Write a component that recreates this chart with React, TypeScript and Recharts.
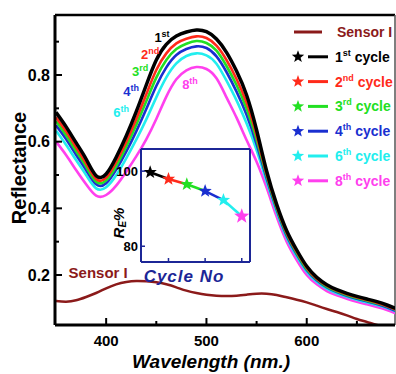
import React from 'react';
import { ComposedChart, Line, XAxis, YAxis, Legend, ReferenceDot, ReferenceLine, Scatter } from 'recharts';

const FONT = '"Liberation Sans", Arial, Helvetica, sans-serif';
const NAVY = '#1c2696';

const wavelengths = [350, 360, 370, 380, 390, 400, 410, 420, 430, 440, 450, 460, 470, 480, 490, 500, 510, 520, 530, 540, 550, 560, 570, 580, 590, 600, 610, 620, 630, 640, 650, 660, 670, 680, 690];
const sensorI = [0.122, 0.120, 0.124, 0.134, 0.146, 0.160, 0.172, 0.179, 0.182, 0.181, 0.178, 0.172, 0.163, 0.153, 0.146, 0.141, 0.138, 0.137, 0.138, 0.141, 0.144, 0.144, 0.140, 0.133, 0.126, 0.118, 0.108, 0.098, 0.089, 0.079, 0.068, 0.059, 0.050, 0.043, 0.036];
const cycle1 = [0.688, 0.645, 0.597, 0.548, 0.498, 0.503, 0.553, 0.617, 0.690, 0.770, 0.845, 0.892, 0.917, 0.929, 0.935, 0.930, 0.908, 0.868, 0.812, 0.740, 0.635, 0.512, 0.412, 0.333, 0.275, 0.226, 0.193, 0.171, 0.156, 0.145, 0.136, 0.128, 0.120, 0.110, 0.098];
const cycle2 = [0.673, 0.631, 0.583, 0.535, 0.488, 0.492, 0.539, 0.599, 0.667, 0.742, 0.815, 0.865, 0.895, 0.909, 0.916, 0.911, 0.888, 0.845, 0.788, 0.717, 0.619, 0.503, 0.406, 0.327, 0.270, 0.222, 0.189, 0.168, 0.153, 0.142, 0.133, 0.125, 0.117, 0.107, 0.095];
const cycle3 = [0.662, 0.619, 0.572, 0.525, 0.480, 0.484, 0.527, 0.585, 0.650, 0.721, 0.792, 0.845, 0.878, 0.894, 0.902, 0.896, 0.873, 0.827, 0.770, 0.699, 0.606, 0.497, 0.401, 0.323, 0.266, 0.218, 0.187, 0.165, 0.151, 0.140, 0.131, 0.123, 0.115, 0.106, 0.094];
const cycle4 = [0.649, 0.608, 0.561, 0.515, 0.472, 0.475, 0.516, 0.570, 0.631, 0.698, 0.767, 0.823, 0.860, 0.878, 0.886, 0.881, 0.856, 0.809, 0.750, 0.681, 0.593, 0.490, 0.396, 0.318, 0.262, 0.215, 0.184, 0.163, 0.149, 0.138, 0.129, 0.121, 0.113, 0.103, 0.091];
const cycle6 = [0.633, 0.591, 0.545, 0.500, 0.460, 0.463, 0.499, 0.550, 0.606, 0.667, 0.733, 0.793, 0.835, 0.857, 0.865, 0.859, 0.834, 0.783, 0.724, 0.655, 0.575, 0.480, 0.389, 0.312, 0.256, 0.210, 0.180, 0.159, 0.145, 0.135, 0.126, 0.118, 0.110, 0.101, 0.089];
const cycle8 = [0.600, 0.560, 0.515, 0.472, 0.438, 0.440, 0.468, 0.510, 0.556, 0.607, 0.668, 0.735, 0.787, 0.814, 0.824, 0.818, 0.790, 0.733, 0.672, 0.605, 0.540, 0.462, 0.375, 0.300, 0.245, 0.200, 0.172, 0.152, 0.139, 0.129, 0.120, 0.112, 0.104, 0.095, 0.083];

const xDomain = [349, 688];
const yDomain = [0.05, 0.98];
const xTicks = [400, 450, 500, 550, 600, 650];
const yTicks = [0.2, 0.3, 0.4, 0.5, 0.6, 0.7, 0.8, 0.9];

// cycle labels / colours
const cycleNums = ['1', '2', '3', '4', '6', '8'];
const cycleSups = ['st', 'nd', 'rd', 'th', 'th', 'th'];
const cycleColors = ['#000000', '#ff2a1a', '#22e022', '#1a2fd0', '#22eeee', '#ff40ee'];
const cycleKeys = ['c1', 'c2', 'c3', 'c4', 'c6', 'c8'];
const cycleSeries = [cycle1, cycle2, cycle3, cycle4, cycle6, cycle8];
const sensorColor = '#8b1a1a';

// annotation anchor points (wavelength, reflectance)
const annX = [455.7, 443.8, 433.8, 424.9, 414.9, 483.6];
const annY = [0.911, 0.86, 0.809, 0.749, 0.686, 0.77];
const sensorLabel = { text: 'Sensor I', x: 392, y: 0.206 };

// inset data
const insetIndex = [1, 2, 3, 4, 5, 6];
const insetRE = [99.7, 97.9, 96.5, 94.7, 92.3, 88.0];
const insetXDomain = [0.5, 6.45];
const insetYDomain = [75.8, 105.9];

const mainData = wavelengths.map((w, i) => {
  const row: any = { w, sensor: sensorI[i] };
  cycleKeys.forEach((k, j) => { row[k] = cycleSeries[j][i]; });
  return row;
});

const insetData = insetIndex.map((idx, i) => {
  const row: any = { i: idx, v: insetRE[i], color: cycleColors[i] };
  for (let k = 0; k < insetIndex.length - 1; k++) {
    if (i === k || i === k + 1) row['s' + k] = insetRE[i];
  }
  return row;
});

const starPoints = (cx: number, cy: number, R: number, r: number) => {
  const pts: string[] = [];
  for (let k = 0; k < 10; k++) {
    const rad = k % 2 === 0 ? R : r;
    const a = -Math.PI / 2 + (k * Math.PI) / 5;
    pts.push(`${cx + rad * Math.cos(a)},${cy + rad * Math.sin(a)}`);
  }
  return pts.join(' ');
};

const MainXTick = (props: any) => {
  const { x, y, payload } = props;
  const major = payload.value % 100 === 0;
  return (
    <g>
      <line x1={x} x2={x} y1={y} y2={y - (major ? 7 : 4)} stroke="#000" strokeWidth={2} />
      {major && (
        <text x={x} y={y + 21} textAnchor="middle" fontSize={15} fontWeight="bold" fontFamily={FONT} fill="#000">
          {payload.value}
        </text>
      )}
    </g>
  );
};

const MainYTick = (props: any) => {
  const { x, y, payload } = props;
  const v = Math.round(payload.value * 10);
  const major = v % 2 === 0;
  return (
    <g>
      <line x1={x} x2={x + (major ? 7 : 4)} y1={y} y2={y} stroke="#000" strokeWidth={2} />
      {major && (
        <text x={x - 5} y={y + 5.5} textAnchor="end" fontSize={16} fontWeight="bold" fontFamily={FONT} fill="#000">
          {payload.value.toFixed(1)}
        </text>
      )}
    </g>
  );
};

const InsetXTick = (props: any) => {
  const { x, y } = props;
  return <line x1={x} x2={x} y1={y} y2={y - 4} stroke={NAVY} strokeWidth={1.5} />;
};

const InsetYTick = (props: any) => {
  const { x, y, payload } = props;
  return (
    <g>
      <line x1={x} x2={x + 4} y1={y} y2={y} stroke={NAVY} strokeWidth={1.5} />
      <text x={x - 3} y={y + 4.5} textAnchor="end" fontSize={13} fontWeight="bold" fontFamily={FONT} fill="#000">
        {payload.value}
      </text>
    </g>
  );
};

const renderLegend = () => {
  const rowY = (i: number) => 13 + i * 24.8;
  return (
    <svg width={108} height={180} style={{ display: 'block' }}>
      <line x1={6} x2={34} y1={rowY(0)} y2={rowY(0)} stroke={sensorColor} strokeWidth={3} />
      <text x={49} y={rowY(0) + 5} fontSize={14} fontWeight="bold" fontFamily={FONT} fill={sensorColor}>Sensor I</text>
      {cycleNums.map((n, i) => {
        const y = rowY(i + 1);
        return (
          <g key={n}>
            <polygon points={starPoints(10, y, 6.5, 2.7)} fill={cycleColors[i]} />
            <line x1={20} x2={40} y1={y} y2={y} stroke={cycleColors[i]} strokeWidth={3} />
            <text x={47} y={y + 5} fontSize={14} fontWeight="bold" fontFamily={FONT} fill={cycleColors[i]}>
              {n}
              <tspan fontSize={9} dy={-6}>{cycleSups[i]}</tspan>
              <tspan dy={6}> cycle</tspan>
            </text>
          </g>
        );
      })}
    </svg>
  );
};

const annShape = (i: number) => (props: any) => (
  <text x={props.cx} y={props.cy + 4} textAnchor="middle" fontSize={13} fontWeight="bold" fontFamily={FONT} fill={cycleColors[i]}>
    {cycleNums[i]}
    <tspan fontSize={9} dy={-5}>{cycleSups[i]}</tspan>
  </text>
);

const sensorShape = (props: any) => (
  <text x={props.cx} y={props.cy + 5} textAnchor="middle" fontSize={15} fontWeight="bold" fontFamily={FONT} fill={sensorColor}>
    {sensorLabel.text}
  </text>
);

const starShape = (props: any) => {
  const { cx, cy, payload } = props;
  const big = payload.i === 6;
  return <polygon points={starPoints(cx, cy, big ? 8 : 7, big ? 3.3 : 2.9)} fill={payload.color} />;
};

export default function App() {
  const drawOrder = [5, 4, 3, 2, 1, 0];
  return (
    <div style={{ position: 'absolute', left: 0, top: 0, width: 396, height: 374, background: '#fff' }}>
      <div style={{ position: 'absolute', left: 0, top: 0 }}>
        <ComposedChart width={396} height={374} data={mainData} margin={{ top: 15, right: 1, bottom: 0, left: 0 }}>
          <XAxis
            dataKey="w"
            type="number"
            domain={xDomain}
            allowDataOverflow
            ticks={xTicks}
            height={49}
            tickSize={0}
            tickMargin={0}
            tickLine={false}
            tick={<MainXTick />}
            axisLine={{ stroke: '#000', strokeWidth: 3 }}
            label={{
              content: (p: any) => {
                const vb = p.viewBox;
                return (
                  <text x={vb.x + 156} y={vb.y + 43} textAnchor="middle" fontSize={19} fontWeight="bold" fontStyle="italic" fontFamily={FONT} fill="#000">
                    Wavelength (nm.)
                  </text>
                );
              },
            }}
          />
          <YAxis
            type="number"
            domain={yDomain}
            allowDataOverflow
            ticks={yTicks}
            width={55}
            tickSize={0}
            tickMargin={0}
            tickLine={false}
            tick={<MainYTick />}
            axisLine={{ stroke: '#000', strokeWidth: 3 }}
            label={{
              content: () => {
                const cx = 19;
                const cy = 168;
                return (
                  <text x={cx} y={cy} transform={`rotate(-90, ${cx}, ${cy})`} textAnchor="middle" dominantBaseline="central" fontSize={20} fontWeight="bold" fontFamily={FONT} fill="#000">
                    Reflectance
                  </text>
                );
              },
            }}
          />
          <ReferenceLine y={yDomain[1]} stroke="#000" strokeWidth={2.5} />
          <ReferenceLine x={xDomain[1]} stroke="#555" strokeWidth={1.5} />
          <Line type="natural" dataKey="sensor" stroke={sensorColor} strokeWidth={2.5} dot={false} isAnimationActive={false} />
          {drawOrder.map((j) => (
            <Line
              key={cycleKeys[j]}
              type="natural"
              dataKey={cycleKeys[j]}
              stroke={cycleColors[j]}
              strokeWidth={j === 0 ? 3.5 : 2.6}
              dot={false}
              isAnimationActive={false}
            />
          ))}
          {annX.map((ax, i) => (
            <ReferenceDot key={'a' + i} x={ax} y={annY[i]} r={0} shape={annShape(i)} />
          ))}
          <ReferenceDot x={sensorLabel.x} y={sensorLabel.y} r={0} shape={sensorShape} />
          <Legend
            layout="horizontal"
            align="center"
            verticalAlign="middle"
            content={renderLegend}
            wrapperStyle={{ position: 'absolute', left: 288, top: 19, width: 108, height: 180 }}
          />
        </ComposedChart>
      </div>
      <div style={{ position: 'absolute', left: 100, top: 140 }}>
        <ComposedChart width={155} height={150} data={insetData} margin={{ top: 9, right: 5, bottom: 0, left: 0 }}>
          <XAxis
            dataKey="i"
            type="number"
            domain={insetXDomain}
            ticks={[2, 4, 6]}
            height={28}
            tickSize={0}
            tickMargin={0}
            tickLine={false}
            tick={<InsetXTick />}
            axisLine={{ stroke: NAVY, strokeWidth: 2 }}
            label={{
              content: (p: any) => {
                const vb = p.viewBox;
                return (
                  <text x={vb.x + 43} y={vb.y + 20} textAnchor="middle" fontSize={17} fontWeight="bold" fontStyle="italic" letterSpacing={1} fontFamily={FONT} fill={NAVY}>
                    Cycle No
                  </text>
                );
              },
            }}
          />
          <YAxis
            type="number"
            domain={insetYDomain}
            ticks={[80, 100]}
            width={41}
            tickSize={0}
            tickMargin={0}
            tickLine={false}
            tick={<InsetYTick />}
            axisLine={{ stroke: NAVY, strokeWidth: 2 }}
            label={{
              content: (p: any) => {
                const vb = p.viewBox;
                const cx = vb.x + 18;
                const cy = vb.y + 74;
                return (
                  <text x={cx} y={cy} transform={`rotate(-90, ${cx}, ${cy})`} textAnchor="middle" dominantBaseline="central" fontSize={15} fontWeight="bold" fontStyle="italic" fontFamily={FONT} fill="#000">
                    R<tspan fontSize={10} dy={4}>E</tspan>
                    <tspan dy={-4}>%</tspan>
                  </text>
                );
              },
            }}
          />
          <ReferenceLine y={insetYDomain[1]} stroke={NAVY} strokeWidth={2} />
          <ReferenceLine x={insetXDomain[1]} stroke={NAVY} strokeWidth={2} />
          {insetIndex.slice(0, -1).map((_, k) => (
            <Line key={'s' + k} type="monotone" dataKey={'s' + k} stroke={cycleColors[k]} strokeWidth={2.5} dot={false} connectNulls={false} isAnimationActive={false} />
          ))}
          <Scatter dataKey="v" shape={starShape} isAnimationActive={false} />
        </ComposedChart>
      </div>
    </div>
  );
}
